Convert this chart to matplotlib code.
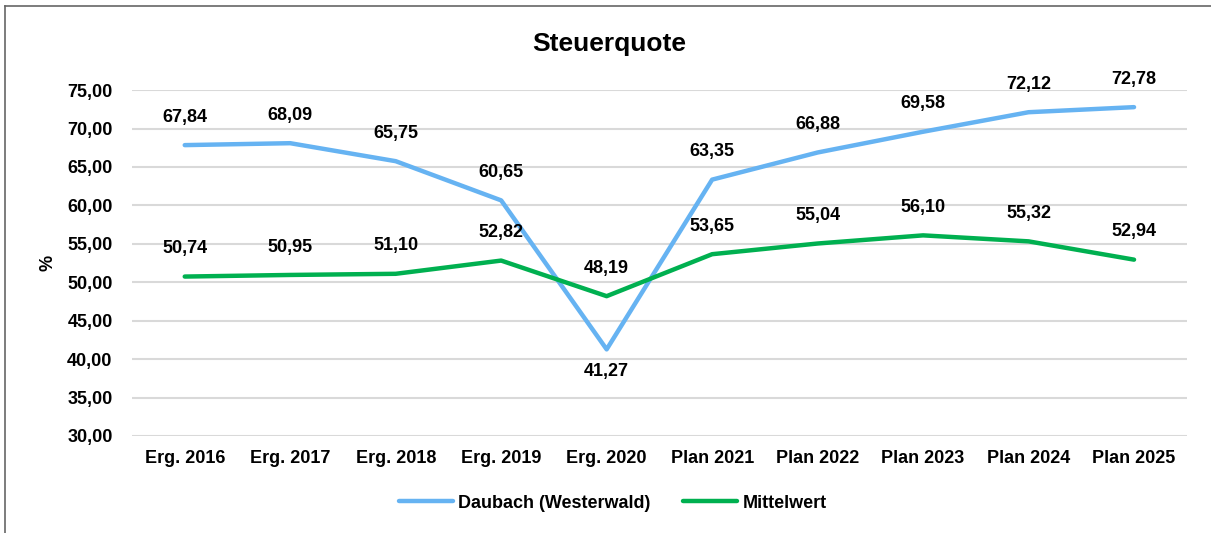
import matplotlib.pyplot as plt
from matplotlib.lines import Line2D

plt.rcParams['font.family'] = ['Liberation Sans', 'DejaVu Sans']
plt.rcParams['font.weight'] = 'bold'

jahre = ['Erg. 2016', 'Erg. 2017', 'Erg. 2018', 'Erg. 2019', 'Erg. 2020',
         'Plan 2021', 'Plan 2022', 'Plan 2023', 'Plan 2024', 'Plan 2025']
daubach = [67.84, 68.09, 65.75, 60.65, 41.27, 63.35, 66.88, 69.58, 72.12, 72.78]
mittelwert = [50.74, 50.95, 51.10, 52.82, 48.19, 53.65, 55.04, 56.10, 55.32, 52.94]

blau = '#66B3F2'
gruen = '#00B050'
fs = 13

def fmt(v):
    return f'{v:.2f}'.replace('.', ',')

fig = plt.figure(figsize=(12.11, 5.33), dpi=100)
ax = fig.add_axes([0.109, 0.182, 0.871, 0.649])

x = range(len(jahre))
ax.plot(x, daubach, color=blau, lw=3.2, solid_capstyle='round', label='Daubach (Westerwald)', zorder=3)
ax.plot(x, mittelwert, color=gruen, lw=3.2, solid_capstyle='round', label='Mittelwert', zorder=3)

# Datenbeschriftungen
for i, v in enumerate(daubach):
    if v < mittelwert[i]:
        ax.annotate(fmt(v), (i, v), xytext=(0, -10), textcoords='offset points',
                    ha='center', va='top', fontsize=fs, fontweight='bold')
    else:
        ax.annotate(fmt(v), (i, v), xytext=(0, 14), textcoords='offset points',
                    ha='center', va='bottom', fontsize=fs, fontweight='bold')
for i, v in enumerate(mittelwert):
    ax.annotate(fmt(v), (i, v), xytext=(0, 14), textcoords='offset points',
                ha='center', va='bottom', fontsize=fs, fontweight='bold')

ax.set_xlim(-0.5, len(jahre) - 0.5)
ax.set_ylim(30, 75)
ax.set_yticks(range(30, 76, 5))
ax.set_yticklabels([fmt(t) for t in range(30, 76, 5)], fontsize=fs, fontweight='bold')
ax.set_xticks(list(x))
ax.set_xticklabels(jahre, fontsize=fs, fontweight='bold')
ax.tick_params(length=0, pad=10)
ax.tick_params(axis='y', pad=14)
ax.grid(axis='y', color='#D9D9D9', lw=1.5)
ax.set_axisbelow(True)
for s in ax.spines.values():
    s.set_visible(False)
ax.set_ylabel('%', fontsize=fs, fontweight='bold', labelpad=8)

fig.text(0.503, 0.918, 'Steuerquote', ha='center', va='center', fontsize=19, fontweight='bold')

handles = [Line2D([], [], color=blau, lw=3.2, solid_capstyle='round'),
           Line2D([], [], color=gruen, lw=3.2, solid_capstyle='round')]
fig.legend(handles, ['Daubach (Westerwald)', 'Mittelwert'], loc='center',
           bbox_to_anchor=(0.506, 0.056), ncol=2, frameon=False, fontsize=fs,
           handlelength=3.0, handletextpad=0.3, columnspacing=1.8)

# Rahmen (oben und links sichtbar)
fig.add_artist(Line2D([5 / 1211, 1], [1 - 6 / 533, 1 - 6 / 533], color='#666666', lw=1.2))
fig.add_artist(Line2D([5 / 1211, 5 / 1211], [0, 1 - 6 / 533], color='#666666', lw=1.2))

fig.savefig('out.png', dpi=100, facecolor='white')
